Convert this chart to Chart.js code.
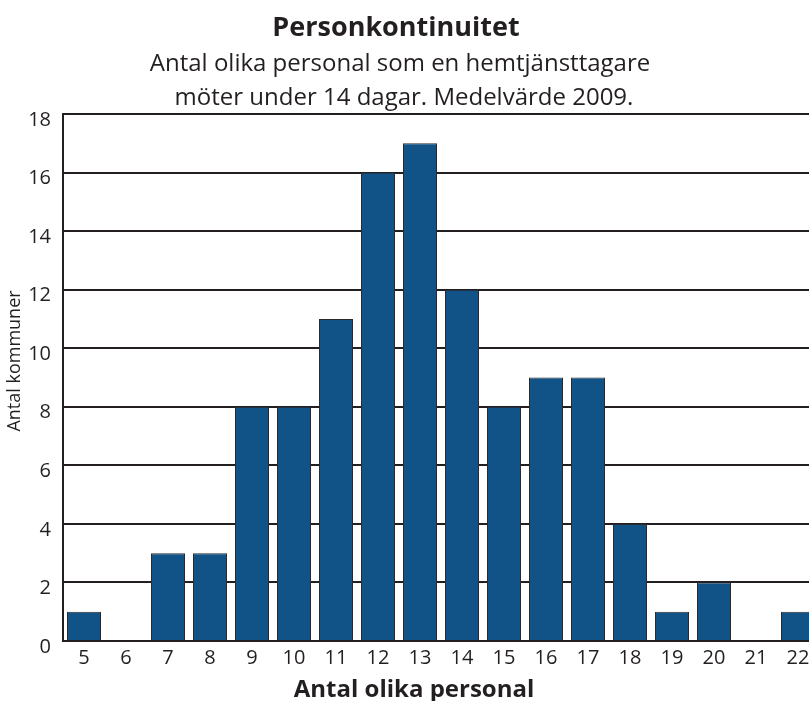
<!DOCTYPE html>
<html>
<head>
<meta charset="utf-8">
<script src="https://cdn.jsdelivr.net/npm/chart.js@4"></script>
<style>
html,body{margin:0;padding:0;background:#fff;overflow:hidden;}
#wrap{width:809px;height:701px;overflow:hidden;position:relative;}
</style>
</head>
<body>
<div id="wrap"><canvas id="c" width="830" height="701"></canvas></div>
<script>
const categories = ['5','6','7','8','9','10','11','12','13','14','15','16','17','18','19','20','21','22'];
const values = [1,0,3,3,8,8,11,16,17,12,8,9,9,4,1,2,0,1];
const yTicks = [0,2,4,6,8,10,12,14,16,18];
const titleText = 'Personkontinuitet';
const subtitleLines = ['Antal olika personal som en hemtjänsttagare', 'möter under 14 dagar. Medelvärde 2009.'];
const xTitle = 'Antal olika personal';
const yTitle = 'Antal kommuner';

const FONT = '"Open Sans", "Noto Sans", sans-serif';
const INK = '#231f20';

const textPlugin = {
  id: 'texts',
  afterDraw(chart) {
    const ctx = chart.ctx;
    ctx.save();
    ctx.fillStyle = INK;
    ctx.textAlign = 'center';
    ctx.textBaseline = 'alphabetic';
    ctx.font = 'bold 27px ' + FONT;
    ctx.fillText(titleText, 396, 36);
    ctx.font = '24px ' + FONT;
    ctx.fillText(subtitleLines[0], 400, 71);
    ctx.fillText(subtitleLines[1], 404, 105);
    ctx.font = 'bold 24px ' + FONT;
    ctx.fillText(xTitle, 414, 697);
    ctx.translate(20, 361);
    ctx.rotate(-Math.PI / 2);
    ctx.font = '18px ' + FONT;
    ctx.fillText(yTitle, 0, 0);
    ctx.restore();
  }
};

new Chart(document.getElementById('c'), {
  type: 'bar',
  data: {
    labels: categories,
    datasets: [{
      data: values,
      backgroundColor: '#115287',
      borderColor: '#2b2b2e',
      borderWidth: 1,
      categoryPercentage: 1,
      barPercentage: 0.81
    }]
  },
  options: {
    responsive: false,
    animation: false,
    devicePixelRatio: 1,
    layout: { padding: { top: 114, left: 0, right: 11, bottom: 0 } },
    plugins: {
      legend: { display: false },
      tooltip: { enabled: false },
      title: { display: false }
    },
    scales: {
      x: {
        grid: { display: false, drawTicks: false },
        border: { display: false },
        ticks: { color: INK, font: { family: FONT, size: 20 }, padding: 5, maxRotation: 0, autoSkip: false },
        afterFit(s) { s.height = 60; }
      },
      y: {
        min: 0, max: 18,
        afterBuildTicks(s) { s.ticks = yTicks.map(v => ({ value: v })); },
        grid: { color: INK, lineWidth: 2, drawTicks: false },
        border: { display: true, color: INK, width: 2 },
        ticks: { color: INK, font: { family: FONT, size: 20 }, padding: 12, labelOffset: 6 },
        title: { display: false },
        afterFit(s) { s.width = 63; }
      }
    }
  },
  plugins: [textPlugin]
});
</script>
</body>
</html>
